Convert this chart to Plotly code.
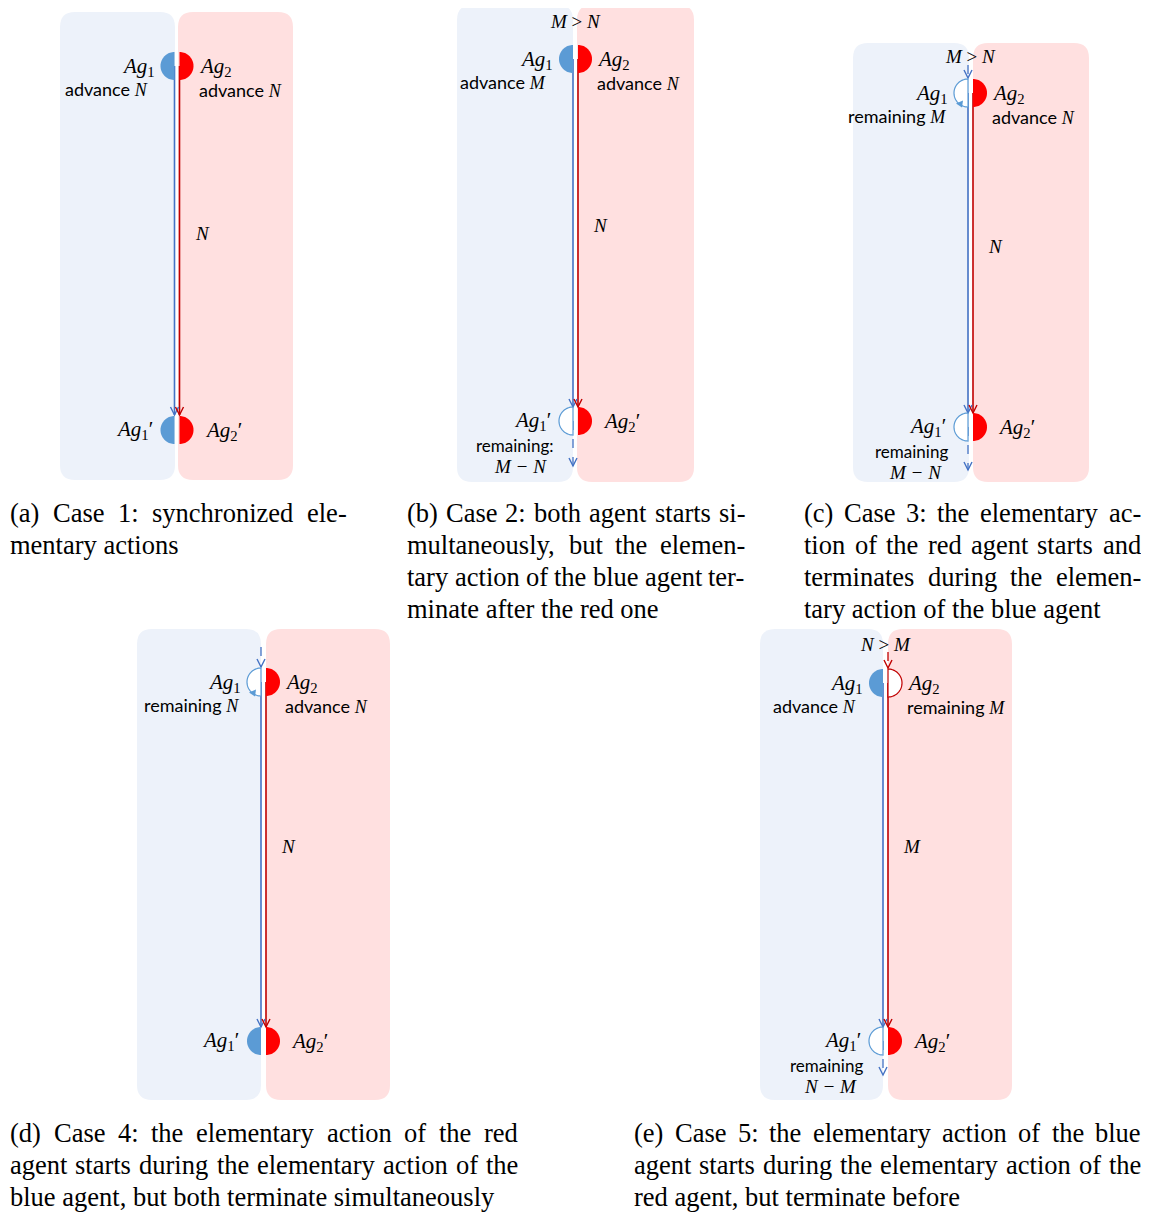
import numpy as np
import plotly.graph_objects as go

# ---------------- content (text values) ----------------
panel_ids = ["a", "b", "c", "d", "e"]
relation_text = ["", "<i>M</i> > <i>N</i>", "<i>M</i> > <i>N</i>", "", "<i>N</i> > <i>M</i>"]
ag1_word = ["advance", "advance", "remaining", "remaining", "advance"]
ag1_var = ["N", "M", "M", "N", "N"]
ag2_word = ["advance", "advance", "advance", "advance", "remaining"]
ag2_var = ["N", "N", "N", "N", "M"]
duration_var = ["N", "N", "N", "N", "M"]
ag1_end_word = ["", "remaining:", "remaining", "", "remaining"]
ag1_end_var = ["", "M − N", "M − N", "", "N − M"]
ag1_start_filled = [True, True, False, False, True]
ag2_start_filled = [True, True, True, True, False]
ag1_end_filled = [True, False, False, True, False]
ag2_end_filled = [True, True, True, True, True]
ag1_start_dashed = [False, False, True, True, False]
ag2_start_dashed = [False, False, False, False, True]

caption_a = ["(a) Case 1:  synchronized ele-", "mentary actions"]
caption_b = ["(b) Case 2: both agent starts si-", "multaneously, but the elemen-",
             "tary action of the blue agent ter-", "minate after the red one"]
caption_c = ["(c) Case 3: the elementary ac-", "tion of the red agent starts and",
             "terminates during the elemen-", "tary action of the blue agent"]
caption_d = ["(d) Case 4: the elementary action of the red",
             "agent starts during the elementary action of the",
             "blue agent, but both terminate simultaneously"]
caption_e = ["(e) Case 5: the elementary action of the blue",
             "agent starts during the elementary action of the",
             "red agent, but terminate before"]
captions = [caption_a, caption_b, caption_c, caption_d, caption_e]

# ---------------- layout geometry (page pixels) ----------------
geom = [
    dict(bx0=60, bx1=175, rx0=178, rx1=293, y0=12, y1=480, bl=174.5, rl=179.5,
         top=66, bot=430, end=415, rel_y=None, dash_top=None, dash_end=None, dur_y=233,
         cap_x=8, cap_w=337, cap_y=513),
    dict(bx0=457, bx1=573, rx0=577, rx1=694, y0=5, y1=482, bl=573, rl=578,
         top=59, bot=421, end=407, rel_y=21, dash_top=None, dash_end=466, dur_y=225,
         cap_x=405, cap_w=338, cap_y=513),
    dict(bx0=853, bx1=969, rx0=973, rx1=1089, y0=43, y1=482, bl=968, rl=973,
         top=93, bot=427, end=413, rel_y=56, dash_top=65, dash_end=470, dur_y=246,
         cap_x=802, cap_w=337, cap_y=513),
    dict(bx0=137, bx1=261, rx0=266, rx1=390, y0=629, y1=1100, bl=261, rl=266,
         top=682, bot=1041, end=1027, rel_y=None, dash_top=647, dash_end=None, dur_y=846,
         cap_x=8, cap_w=508, cap_y=1133),
    dict(bx0=760, bx1=883, rx0=888, rx1=1012, y0=629, y1=1100, bl=883, rl=888,
         top=683, bot=1041, end=1027, rel_y=644, dash_top=652, dash_end=1075, dur_y=846,
         cap_x=632, cap_w=507, cap_y=1133),
]

W, H = 1149, 1212
OFF = 8  # default body margin of the html page

BLUE_BG = "#EDF2FA"
RED_BG = "#FFE0E0"
BLUE_FILL = "#5B9BD5"
RED_FILL = "#FF0000"
BLUE_LINE = "#4472C4"
RED_LINE = "#C00000"
SERIF = "Liberation Serif"
SANS = "Lato"
R = 14
CAP_SIZE = 26.5

# Times (Liberation Serif) advance widths, 1/1000 em, for justification
TW = dict(zip("abcdefghijklmnopqrstuvwxyz",
              [444, 500, 444, 500, 444, 333, 500, 500, 278, 278, 500, 278, 778,
               500, 500, 500, 500, 333, 389, 278, 500, 500, 722, 500, 500, 444]))
TW.update({" ": 250, "(": 333, ")": 333, ":": 278, ",": 250, "-": 333, ".": 250,
           "C": 667})


def word_w(w):
    return sum(TW.get(c, 500) for c in w) / 1000.0 * CAP_SIZE


shapes = []
annots = []


def rrect(x0, x1, y0, y1, r, color):
    p = (f"M {x0+r},{y0} L {x1-r},{y0} Q {x1},{y0} {x1},{y0+r} L {x1},{y1-r} "
         f"Q {x1},{y1} {x1-r},{y1} L {x0+r},{y1} Q {x0},{y1} {x0},{y1-r} "
         f"L {x0},{y0+r} Q {x0},{y0} {x0+r},{y0} Z")
    shapes.append(dict(type="path", path=p, fillcolor=color, line=dict(width=0), layer="below"))


def half_disk(cx, cy, side, filled, fill, edge):
    if side == "L":
        t = np.linspace(np.pi / 2, 3 * np.pi / 2, 40)
    else:
        t = np.linspace(-np.pi / 2, np.pi / 2, 40)
    xs = cx + R * np.cos(t)
    ys = cy - R * np.sin(t)
    p = "M " + " L ".join(f"{x:.2f},{y:.2f}" for x, y in zip(xs, ys)) + " Z"
    if filled:
        shapes.append(dict(type="path", path=p, fillcolor=fill, line=dict(width=0)))
    else:
        shapes.append(dict(type="path", path=p, fillcolor="white", line=dict(color=edge, width=1.2)))


def curl_head(cx, cy, color):
    a = np.deg2rad(235)
    px, py = cx + R * np.cos(a), cy - R * np.sin(a)
    p = f"M {px-4:.1f},{py-1:.1f} L {px+3:.1f},{py-4:.1f} L {px+2:.1f},{py+3:.1f} Z"
    shapes.append(dict(type="path", path=p, fillcolor=color, line=dict(width=0)))


def vline(x, y0, y1, color, dash="solid", width=1.6):
    shapes.append(dict(type="line", x0=x, x1=x, y0=y0, y1=y1,
                       line=dict(color=color, width=width, dash=dash)))


def vhead(x, y, color):
    p = f"M {x-4},{y-8} L {x},{y} L {x+4},{y-8}"
    shapes.append(dict(type="path", path=p, line=dict(color=color, width=1.4)))


def text(x, y, s, anchor="left", size=19, family=SERIF):
    annots.append(dict(x=x, y=y, text=s, xanchor=anchor, yanchor="middle", showarrow=False,
                       font=dict(family=family, size=size, color="black")))


def var_html(v):
    return f'<span style="font-family:{SERIF};font-style:italic">{v}</span>'


def ag(i, prime=False):
    s = f"<i>Ag</i><sub>{i}</sub>"
    return s + ("′" if prime else "")


def caption_lines(x0, width, y0, lines):
    for j, line in enumerate(lines):
        y = y0 + 32 * j
        words = line.split()
        if j == len(lines) - 1 or len(words) < 2:
            text(x0, y, line, "left", CAP_SIZE, SERIF)
            continue
        ws = [word_w(w) for w in words]
        gap = (width - sum(ws)) / (len(words) - 1)
        x = x0
        for w, wd in zip(words, ws):
            text(x, y, w, "left", CAP_SIZE, SERIF)
            x += wd + gap


for k in range(len(panel_ids)):
    g = geom[k]
    rrect(g["bx0"], g["bx1"], g["y0"], g["y1"], 15, BLUE_BG)
    rrect(g["rx0"], g["rx1"], g["y0"], g["y1"], 15, RED_BG)
    bl, rl = g["bl"], g["rl"]
    vline(bl, g["top"], g["end"], BLUE_LINE)
    vline(rl, g["top"], g["end"], RED_LINE)
    vhead(bl, g["end"], BLUE_LINE)
    vhead(rl, g["end"], RED_LINE)
    if ag1_start_dashed[k]:
        vline(bl, g["dash_top"], g["top"] - R - 1, BLUE_LINE, dash="dash", width=1.3)
        vhead(bl, g["top"] - R - 1, BLUE_LINE)
    if ag2_start_dashed[k]:
        vline(rl, g["dash_top"], g["top"] - R - 1, RED_LINE, dash="dash", width=1.3)
        vhead(rl, g["top"] - R - 1, RED_LINE)
    if g["dash_end"] is not None:
        vline(bl, g["bot"], g["dash_end"], BLUE_LINE, dash="dash", width=1.3)
        vhead(bl, g["dash_end"], BLUE_LINE)
    half_disk(bl, g["top"], "L", ag1_start_filled[k], BLUE_FILL, BLUE_FILL)
    half_disk(rl, g["top"], "R", ag2_start_filled[k], RED_FILL, RED_LINE)
    half_disk(bl, g["bot"], "L", ag1_end_filled[k], BLUE_FILL, BLUE_FILL)
    half_disk(rl, g["bot"], "R", ag2_end_filled[k], RED_FILL, RED_LINE)
    if not ag1_start_filled[k]:
        curl_head(bl, g["top"], BLUE_FILL)
    # labels
    off1 = 20 if ag1_word[k] == "remaining" else 25
    text(bl - 18, g["top"] + 1, ag(1), "right", 21)
    text(bl - off1, g["top"] + 23, f"{ag1_word[k]} {var_html(ag1_var[k])}", "right", 18, SANS)
    text(rl + 17, g["top"] + 1, ag(2), "left", 21)
    text(rl + 17, g["top"] + 24, f"{ag2_word[k]} {var_html(ag2_var[k])}", "left", 18, SANS)
    text(rl + 13, g["dur_y"], f"<i>{duration_var[k]}</i>", "left", 19)
    text(bl - 20, g["bot"], ag(1, True), "right", 21)
    text(rl + 23, g["bot"] + 1, ag(2, True), "left", 21)
    if relation_text[k]:
        text((bl + rl) / 2, g["rel_y"], relation_text[k], "center", 19)
    if ag1_end_word[k]:
        text(bl - 18, g["bot"] + 24, ag1_end_word[k], "right", 17, SANS)
        text(bl - 24, g["bot"] + 45, f"<i>{ag1_end_var[k]}</i>", "right", 19)
    caption_lines(g["cap_x"], g["cap_w"], g["cap_y"], captions[k])

fig = go.Figure()
fig.update_layout(
    width=W - OFF, height=H - OFF,
    margin=dict(l=0, r=0, t=0, b=0),
    paper_bgcolor="white", plot_bgcolor="white",
    xaxis=dict(range=[OFF, W], visible=False, fixedrange=True),
    yaxis=dict(range=[H, OFF], visible=False, fixedrange=True),
    shapes=shapes, annotations=annots, showlegend=False,
)
fig.write_html("out.html")
